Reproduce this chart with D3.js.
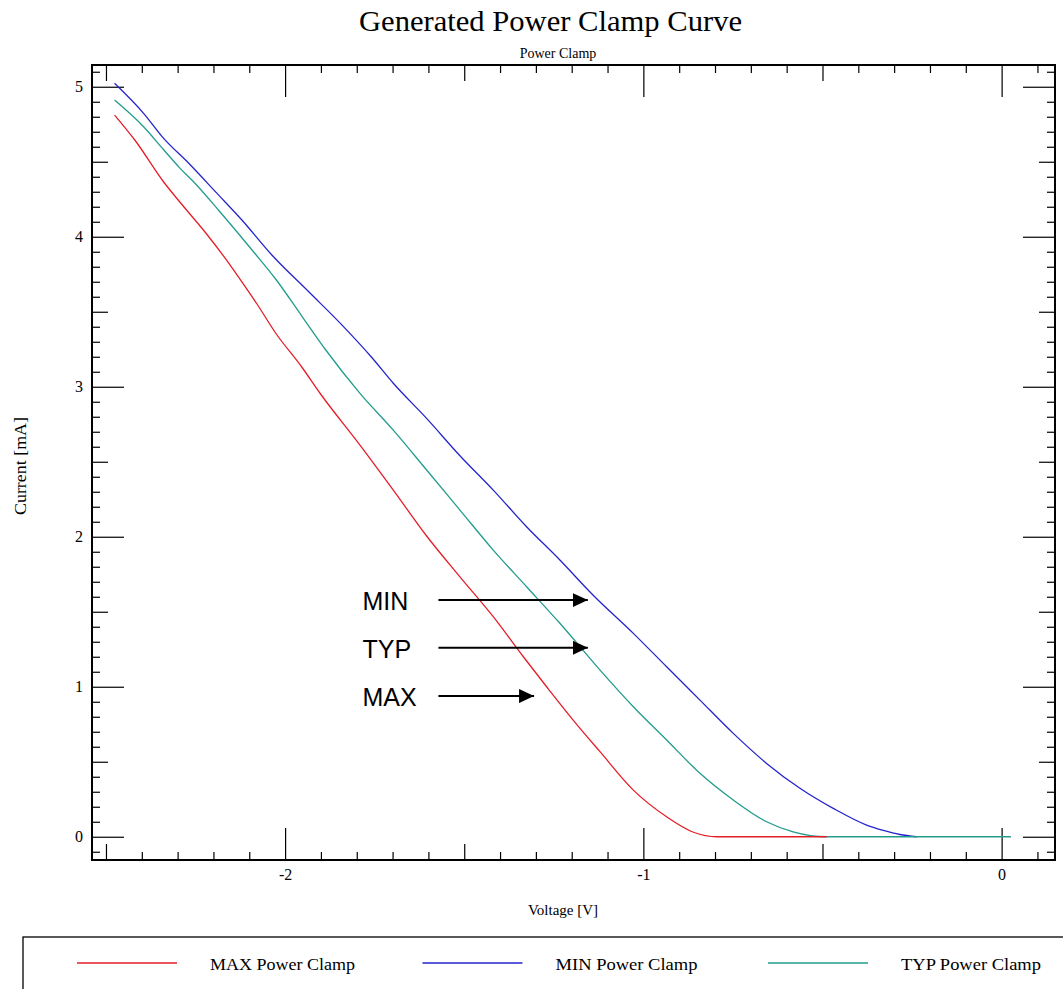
<!DOCTYPE html>
<html>
<head>
<meta charset="utf-8">
<script src="https://cdn.jsdelivr.net/npm/d3@7"></script>
<style>
  body { margin: 0; background: #fff; }
  svg text { font-family: "Liberation Serif", "Times New Roman", serif; fill: #000; }
</style>
</head>
<body>
<script>
// curves: voltage [V], current [mA]
const maxClamp = [
  [-2.476, 4.811], [-2.418, 4.640], [-2.339, 4.365], [-2.288, 4.215], [-2.223, 4.030],
  [-2.167, 3.856], [-2.111, 3.666], [-2.078, 3.550], [-2.027, 3.360], [-1.953, 3.130],
  [-1.902, 2.955], [-1.791, 2.611], [-1.698, 2.311], [-1.605, 2.005], [-1.512, 1.733],
  [-1.419, 1.467], [-1.335, 1.200], [-1.270, 1.000], [-1.196, 0.778], [-1.121, 0.567],
  [-1.028, 0.311], [-0.935, 0.133], [-0.860, 0.030], [-0.795, 0.000], [-0.488, 0.000]
];
const minClamp = [
  [-2.476, 5.023], [-2.395, 4.823], [-2.339, 4.656], [-2.269, 4.490], [-2.190, 4.289],
  [-2.120, 4.110], [-2.037, 3.878], [-1.934, 3.633], [-1.841, 3.411], [-1.758, 3.195],
  [-1.698, 3.023], [-1.605, 2.789], [-1.512, 2.540], [-1.419, 2.311], [-1.326, 2.067],
  [-1.233, 1.845], [-1.140, 1.610], [-1.028, 1.356], [-0.935, 1.133], [-0.842, 0.911],
  [-0.749, 0.689], [-0.656, 0.489], [-0.563, 0.323], [-0.470, 0.189], [-0.377, 0.078],
  [-0.330, 0.042], [-0.284, 0.015], [-0.237, 0.000]
];
const typClamp = [
  [-2.476, 4.911], [-2.395, 4.733], [-2.339, 4.580], [-2.293, 4.456], [-2.251, 4.355],
  [-2.185, 4.175], [-2.130, 4.020], [-2.083, 3.885], [-2.027, 3.720], [-1.953, 3.470],
  [-1.888, 3.250], [-1.791, 2.956], [-1.698, 2.711], [-1.605, 2.445], [-1.512, 2.178],
  [-1.419, 1.911], [-1.326, 1.667], [-1.233, 1.423], [-1.121, 1.111], [-1.028, 0.867],
  [-0.935, 0.645], [-0.842, 0.423], [-0.749, 0.245], [-0.656, 0.100], [-0.582, 0.033],
  [-0.488, 0.000], [0.026, 0.000]
];

const seriesNames = ["MAX Power Clamp", "MIN Power Clamp", "TYP Power Clamp"];
const seriesColors = ["#e41e26", "#2424cc", "#229c8c"];
const legendWidths = [145, 142, 140];

const xMajor = [-2, -1, 0];
const xMedium = [-2.5, -1.5, -0.5];
const yMajor = [0, 1, 2, 3, 4, 5];

// callouts: label, arrow start / end voltage, current level
const callouts = [
  { label: "MIN", x0: -1.572, x1: -1.155, i: 1.578 },
  { label: "TYP", x0: -1.572, x1: -1.155, i: 1.260 },
  { label: "MAX", x0: -1.572, x1: -1.305, i: 0.938 }
];
const calloutTextV = -1.784;

const width = 1063, height = 989;
const pl = 92, pr = 1055, pt = 65, pb = 860;

const svg = d3.select("body").append("svg")
  .attr("width", width)
  .attr("height", height);

const x = d3.scaleLinear().domain([-2.539, 0.149]).range([pl, pr]);
const y = d3.scaleLinear().domain([-0.155, 5.145]).range([pb, pt]);

// tick sets every 0.1
const xMinor = d3.range(-25, 2).map(d => d / 10).filter(d => !xMajor.includes(d) && !xMedium.includes(d));
const yMinor = d3.range(-1, 52).map(d => d / 10).filter(d => !Number.isInteger(d) && Math.abs(d * 10 % 10) !== 5);
const yMedium = d3.range(0, 5).map(d => d + 0.5);

// titles
svg.append("text")
  .attr("x", 359).attr("y", 31)
  .attr("textLength", 383).attr("lengthAdjust", "spacingAndGlyphs")
  .style("font-size", "30px")
  .text("Generated Power Clamp Curve");

svg.append("text")
  .attr("x", 558).attr("y", 58)
  .attr("text-anchor", "middle")
  .style("font-size", "14px")
  .text("Power Clamp");

// axes: three tick lengths, all pointing inward
function tickLayer(axis, g, values, size, labels) {
  g.call(axis.tickValues(values).tickSize(-size).tickPadding(9)
      .tickFormat(labels ? (d => String(d)) : ""));
  g.select(".domain").remove();
  g.selectAll(".tick line").attr("stroke", "#000").attr("stroke-width", 1.2);
  g.selectAll(".tick text").style("font-family", "Liberation Serif, serif").style("font-size", "16px");
}

const sides = [
  [d3.axisBottom(x), `translate(0,${pb})`, xMinor, xMedium, xMajor, true],
  [d3.axisTop(x), `translate(0,${pt})`, xMinor, xMedium, xMajor, false],
  [d3.axisLeft(y), `translate(${pl},0)`, yMinor, yMedium, yMajor, true],
  [d3.axisRight(y), `translate(${pr},0)`, yMinor, yMedium, yMajor, false]
];
sides.forEach(([axis, tr, mi, me, ma, lab]) => {
  tickLayer(axis, svg.append("g").attr("transform", tr), mi, 8, false);
  tickLayer(axis, svg.append("g").attr("transform", tr), me, 16, false);
  tickLayer(axis, svg.append("g").attr("transform", tr), ma, 32, lab);
});

svg.append("rect")
  .attr("x", pl).attr("y", pt)
  .attr("width", pr - pl).attr("height", pb - pt)
  .attr("fill", "none").attr("stroke", "#000").attr("stroke-width", 2);

// axis titles
svg.append("text")
  .attr("x", 563).attr("y", 915)
  .attr("text-anchor", "middle")
  .style("font-size", "15px")
  .text("Voltage [V]");

svg.append("text")
  .attr("transform", "translate(26,466) rotate(-90)")
  .attr("x", -49)
  .attr("textLength", 98).attr("lengthAdjust", "spacingAndGlyphs")
  .style("font-size", "17px")
  .text("Current [mA]");

// curves
const line = d3.line().curve(d3.curveMonotoneX).x(d => x(d[0])).y(d => y(d[1]));
const drawOrder = [[minClamp, 1], [typClamp, 2], [maxClamp, 0]];
drawOrder.forEach(([data, k]) => {
  svg.append("path")
    .attr("d", line(data))
    .attr("fill", "none")
    .attr("stroke", seriesColors[k])
    .attr("stroke-width", 1.3);
});

// callout arrows
svg.append("defs").append("marker")
  .attr("id", "arrow")
  .attr("markerUnits", "userSpaceOnUse")
  .attr("markerWidth", 15).attr("markerHeight", 14)
  .attr("refX", 15).attr("refY", 7)
  .attr("orient", "auto")
  .append("path")
  .attr("d", "M0,0L15,7L0,14Z")
  .attr("fill", "#000");

const co = svg.append("g");
co.selectAll("line").data(callouts).join("line")
  .attr("x1", d => x(d.x0)).attr("x2", d => x(d.x1))
  .attr("y1", d => y(d.i)).attr("y2", d => y(d.i))
  .attr("stroke", "#000").attr("stroke-width", 2)
  .attr("marker-end", "url(#arrow)");
co.selectAll("text").data(callouts).join("text")
  .attr("x", x(calloutTextV))
  .attr("y", d => y(d.i) + 10)
  .style("font-family", "Liberation Sans, Arial, sans-serif")
  .style("font-size", "25px")
  .text(d => d.label);

// legend
svg.append("rect")
  .attr("x", 23).attr("y", 937)
  .attr("width", 1100).attr("height", 120)
  .attr("fill", "none").attr("stroke", "#000").attr("stroke-width", 1.3);

const lg = svg.append("g").selectAll("g").data(seriesNames).join("g")
  .attr("transform", (d, i) => `translate(${77 + i * 345.5},963)`);
lg.append("line")
  .attr("x1", 0).attr("x2", 100)
  .attr("stroke", (d, i) => seriesColors[i]).attr("stroke-width", 1.3);
lg.append("text")
  .attr("x", 133).attr("y", 7)
  .attr("textLength", (d, i) => legendWidths[i]).attr("lengthAdjust", "spacingAndGlyphs")
  .style("font-size", "17px")
  .text(d => d);
</script>
</body>
</html>
